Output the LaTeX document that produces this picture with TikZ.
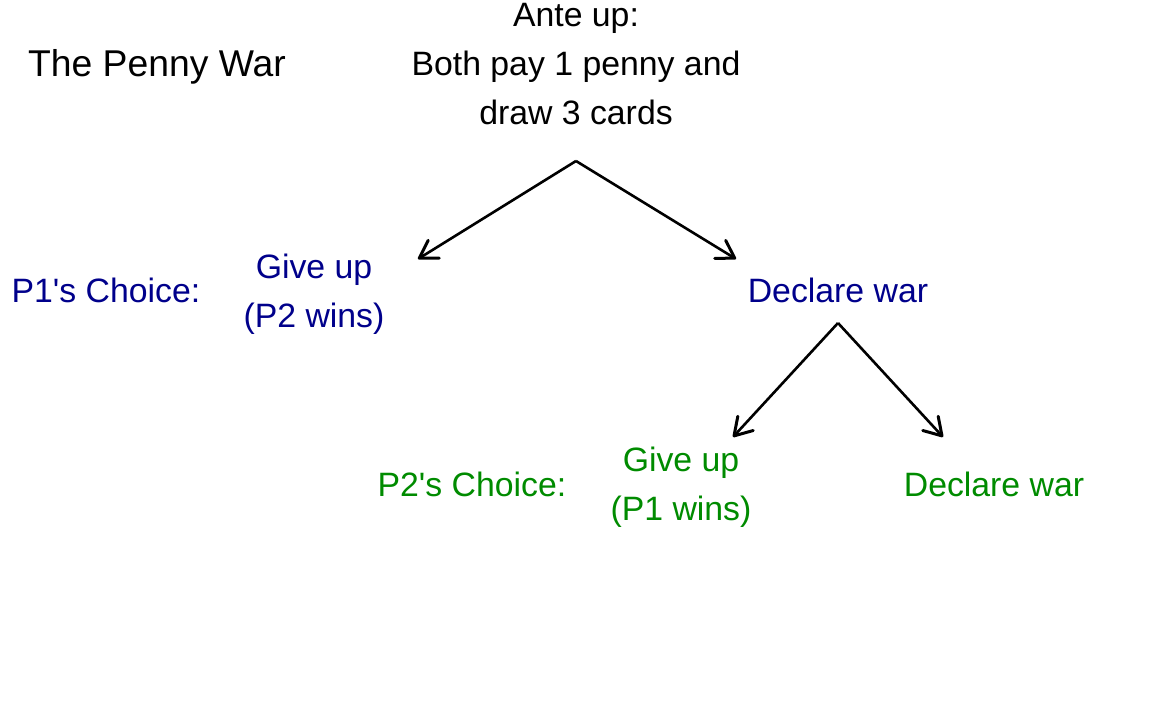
\documentclass[tikz,border=0pt]{standalone}
\usepackage{fontspec}
\setmainfont{Liberation Sans}
\usetikzlibrary{arrows.meta}
\definecolor{pblue}{RGB}{0,0,139}
\definecolor{pgreen}{RGB}{0,139,0}
\begin{document}
\begin{tikzpicture}[x=1pt,y=-1pt,
  txt/.style={inner sep=0pt,outer sep=0pt,align=center,font=\fontsize{33.8}{49}\selectfont},
  ttl/.style={inner sep=0pt,outer sep=0pt,font=\fontsize{37.3}{44}\selectfont},
  arr/.style={line width=2.6pt,-{Straight Barb[length=17pt,width=21pt,line width=3pt,round]}}]
\useasboundingbox (0,0) rectangle (1152,711);
\node[ttl,anchor=base] (title) at (157,77) {The Penny War};
\node[txt] (ante) at (576,64) {Ante up:\\Both pay 1 penny and\\draw 3 cards};
\node[txt,text=pblue,anchor=base] (p1lab) at (106,303) {P1\textquotesingle s Choice:};
\node[txt,text=pblue] (p1give) at (314,294) {Give up\\(P2 wins)};
\node[txt,text=pblue,anchor=base] (p1war) at (838,303) {Declare war};
\node[txt,text=pgreen,anchor=base] (p2lab) at (472,496) {P2\textquotesingle s Choice:};
\node[txt,text=pgreen] (p2give) at (681,487) {Give up\\(P1 wins)};
\node[txt,text=pgreen,anchor=base] (p2war) at (994,496) {Declare war};
\coordinate (a0) at (576,161);
\coordinate (a1) at (418,259);
\coordinate (a2) at (736,259);
\coordinate (b0) at (838,323);
\coordinate (b1) at (733,437);
\coordinate (b2) at (943,437);
\draw[arr] (a0) -- (a1);
\draw[arr] (a0) -- (a2);
\draw[arr] (b0) -- (b1);
\draw[arr] (b0) -- (b2);
\end{tikzpicture}
\end{document}
